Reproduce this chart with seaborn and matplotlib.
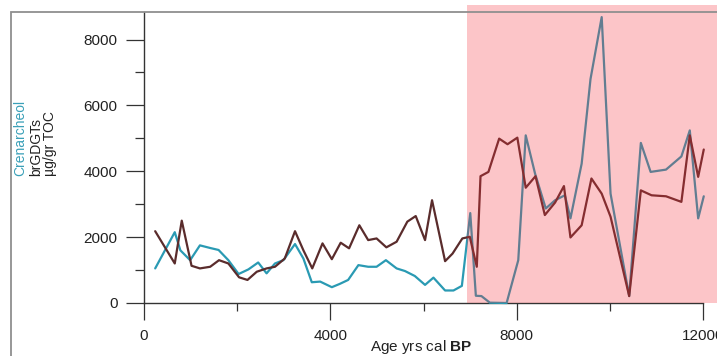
import matplotlib
matplotlib.use("Agg")
import matplotlib.pyplot as plt
import matplotlib.patches as mpatches
import seaborn as sns
import numpy as np

sns.set_style("white")
plt.rcParams['font.family'] = ['Liberation Sans', 'DejaVu Sans']
plt.rcParams['mathtext.fontset'] = 'custom'
plt.rcParams['mathtext.rm'] = 'Liberation Sans'
plt.rcParams['mathtext.bf'] = 'Liberation Sans:bold'

# ---- data ----
cren_age = [240, 660, 780, 990, 1200, 1420, 1600, 1810, 2030, 2240, 2450, 2630, 2810, 2990,
            3240, 3420, 3600, 3780, 4030, 4200, 4380, 4600, 4810, 4990, 5190, 5420, 5600,
            5810, 6030, 6210, 6460, 6640, 6820, 7000, 7120, 7240, 7420, 7780, 8030, 8190,
            8390, 8620, 8820, 9030, 9150, 9390, 9580, 9820, 10010, 10410, 10660, 10870,
            11200, 11530, 11710, 11890, 12010]
cren_val = [1050, 2150, 1600, 1300, 1750, 1670, 1610, 1300, 880, 1020, 1230, 900, 1200, 1300,
            1790, 1350, 630, 650, 480, 580, 700, 1150, 1100, 1100, 1300, 1050, 970,
            820, 550, 770, 380, 380, 520, 2730, 220, 210, 10, 0, 1300, 5090,
            3930, 2870, 3120, 3270, 2570, 4230, 6800, 8680, 3320, 210, 4860, 3980,
            4050, 4450, 5240, 2570, 3240]

br_age = [240, 660, 810, 1020, 1200, 1420, 1610, 1810, 2040, 2220, 2420, 2630, 2810, 3020,
          3240, 3420, 3610, 3830, 4030, 4220, 4400, 4620, 4810, 4990, 5200, 5420, 5650,
          5830, 6030, 6180, 6460, 6620, 6830, 6990, 7140, 7220, 7390, 7620, 7800, 8010,
          8190, 8400, 8600, 8820, 9010, 9150, 9390, 9600, 9820, 10010, 10410, 10660, 10890,
          11200, 11530, 11710, 11890, 12010]
br_val = [2180, 1200, 2500, 1130, 1050, 1100, 1300, 1200, 780, 700, 950, 1050, 1100, 1350,
          2180, 1600, 1050, 1810, 1330, 1830, 1660, 2360, 1910, 1960, 1690, 1860, 2470,
          2640, 1910, 3120, 1270, 1500, 1960, 2010, 1100, 3850, 3980, 4990, 4820, 5020,
          3500, 3850, 2670, 3050, 3550, 1990, 2360, 3780, 3320, 2620, 210, 3420, 3270,
          3240, 3070, 5090, 3830, 4660]

y_major = [0, 2000, 4000, 6000, 8000]
y_minor = [1000, 3000, 5000, 7000]
x_major = [0, 4000, 8000, 12000]
x_minor = [2000, 6000, 10000]
shade_start = 6930

W, H = 717, 356
fig = plt.figure(figsize=(W / 100, H / 100), dpi=100)
ax = fig.add_axes([0, 0, 1, 1])

xs = 12000 / 559.3
ys = 8000 / 263.5
ax.set_xlim(-144 * xs, (W - 144) * xs)
ax.set_ylim(-(H - 303) * ys, 303 * ys)
top_val = (303 - 12) * ys

teal = '#2a9ab3'
brown = '#5a2c2c'
sns.lineplot(x=cren_age, y=cren_val, ax=ax, color=teal, lw=1.6, estimator=None, sort=False, zorder=3)
sns.lineplot(x=br_age, y=br_val, ax=ax, color=brown, lw=1.6, estimator=None, sort=False, zorder=3)

# pink overlay
ax.add_patch(mpatches.Rectangle((shade_start, 0), 20000, top_val + 200,
                                facecolor=(245/255, 50/255, 60/255), alpha=0.28,
                                edgecolor='none', zorder=5))

for s in ['top', 'right']:
    ax.spines[s].set_visible(False)
ax.spines['left'].set_position(('data', 0))
ax.spines['bottom'].set_position(('data', 0))
ax.spines['left'].set_bounds(0, top_val)
ax.spines['bottom'].set_bounds(0, 12000)
for s in ['left', 'bottom']:
    ax.spines[s].set_color('#333333')
    ax.spines[s].set_linewidth(1.0)

ax.set_yticks(y_major)
ax.set_yticks(y_minor, minor=True)
ax.set_xticks(x_major)
ax.set_xticks(x_minor, minor=True)
ax.set_yticklabels([str(v) for v in y_major])
ax.set_xticklabels([str(v) for v in x_major])
ax.tick_params(axis='y', which='major', direction='out', length=13, width=0.9, color='#333333',
               pad=6, labelsize=11, labelcolor='#222222', left=True)
ax.tick_params(axis='y', which='minor', direction='out', length=6.5, width=0.9, color='#333333', left=True)
ax.tick_params(axis='x', which='major', direction='out', length=12, width=0.9, color='#333333',
               pad=7, labelsize=11, labelcolor='#222222', bottom=True)
ax.tick_params(axis='x', which='minor', direction='out', length=6, width=0.9, color='#333333', bottom=True)
ax.set_xlabel('')
ax.set_ylabel('')

# figure frame
fig.patches.append(mpatches.Rectangle((11 / W, -0.2), 1.2, (H - 12) / H + 0.2,
                                      transform=fig.transFigure, fill=False,
                                      edgecolor='#8f8f8f', lw=1.3, zorder=0))

# y label (three rotated lines)
for txt, xp, col in [('Crenarcheol', 20, '#3aa0b8'), ('brGDGTs', 36, '#222222'), ('µg/gr TOC', 50, '#222222')]:
    fig.text(xp / W, 1 - 176 / H, txt, rotation=90, rotation_mode='anchor',
             ha='left', va='center', fontsize=10, color=col)

fig.text(370 / W, 1 - 347 / H, r'Age yrs cal $\mathbf{BP}$', ha='left', va='center',
         fontsize=11, color='#222222')

fig.savefig('out.png', dpi=100)
